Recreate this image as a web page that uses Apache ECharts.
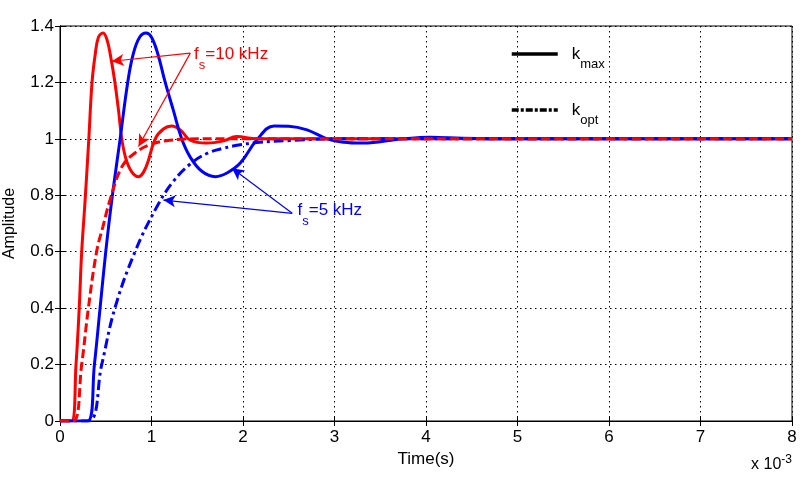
<!DOCTYPE html>
<html>
<head>
<meta charset="utf-8">
<script src="https://cdn.jsdelivr.net/npm/echarts@6/dist/echarts.min.js"></script>
<style>
  html, body { margin: 0; padding: 0; background: #fff; }
  #chart { width: 810px; height: 477px; }
</style>
</head>
<body>
<div id="chart"></div>
<script>
const redMaxT = [0, 0.125, 0.175, 0.21, 0.237, 0.274, 0.315, 0.35, 0.385, 0.42, 0.47, 0.515, 0.56, 0.6, 0.64, 0.675, 0.72, 0.78, 0.858, 0.94, 1.04, 1.13, 1.22, 1.32, 1.42, 1.6, 1.79, 1.93, 2.15, 2.5, 8]
const redMaxY = [0, 0, 0.2, 0.4, 0.6, 0.78, 1.0, 1.2, 1.3, 1.36, 1.375, 1.35, 1.28, 1.2, 1.1, 1.0, 0.93, 0.885, 0.866, 0.9, 1.0, 1.035, 1.046, 1.03, 0.996, 0.985, 0.993, 1.008, 1.0, 1.0, 1.0]

const redOptT = [0, 0.146, 0.237, 0.31, 0.4, 0.47, 0.548, 0.675, 0.82, 0.99, 1.2, 1.5, 8]
const redOptY = [0, 0, 0.2, 0.4, 0.6, 0.69, 0.785, 0.9, 0.95, 0.98, 0.995, 1.0, 1.0]

const blueMaxT = [0, 0.303, 0.376, 0.438, 0.5, 0.566, 0.657, 0.74, 0.8, 0.87, 0.94, 1.0, 1.07, 1.15, 1.24, 1.33, 1.42, 1.55, 1.7, 1.83, 1.97, 2.15, 2.34, 2.5, 2.7, 2.92, 3.1, 3.29, 3.5, 3.75, 4.05, 4.4, 5, 8]
const blueMaxY = [0, 0, 0.2, 0.4, 0.6, 0.783, 1.0, 1.2, 1.3, 1.36, 1.375, 1.36, 1.3, 1.2, 1.1, 1.0, 0.937, 0.885, 0.866, 0.88, 0.914, 0.996, 1.046, 1.045, 1.032, 1.0, 0.988, 0.985, 0.99, 1.0, 1.006, 1.002, 1.0, 1.0]

const blueOptT = [0, 0.31, 0.456, 0.6, 0.82, 1.06, 1.24, 1.42, 1.61, 1.79, 1.97, 2.15, 2.51, 3.0, 8]
const blueOptY = [0, 0, 0.2, 0.4, 0.6, 0.76, 0.85, 0.91, 0.949, 0.967, 0.979, 0.987, 0.994, 1.0, 1.0]

const legendNames = ['kmax', 'kopt']
const legendSub = {kmax: 'max', kopt: 'opt'}

const FONT = 'Liberation Sans, Arial, sans-serif'
const RED = '#ff0000'
const BLUE = '#0000ff'

const pairs = (t, y) => t.map((v, i) => [v, y[i]])

// subscript trick: sub token is padded down, main token sits in the middle
const subRich = (color) => ({
    m: {fontSize: 17, lineHeight: 18, verticalAlign: 'middle', color: color, fontFamily: FONT},
    s: {fontSize: 13, lineHeight: 13, padding: [21, 0, 0, 0], color: color, fontFamily: FONT}
})

function arrows(color, list) {
    return {
        silent: true,
        symbol: ['none', 'arrow'],
        symbolSize: [9, 12],
        label: {show: false},
        lineStyle: {color: color, width: 1.2, type: 'solid'},
        data: list.map(a => [{coord: [a[0], a[1]]}, {coord: [a[2], a[3]]}])
    }
}

function note(color, at, text) {
    return {
        silent: true,
        symbol: 'circle',
        symbolSize: 1,
        itemStyle: {color: 'transparent'},
        label: {
            show: true, position: 'right', distance: 0,
            formatter: text, rich: subRich(color)
        },
        data: [{coord: at}]
    }
}

const chart = echarts.init(document.getElementById('chart'))

const baseLine = (name, t, y, color, type) => ({
    name: name,
    type: 'line',
    data: pairs(t, y),
    showSymbol: false,
    symbol: 'none',
    smooth: 0.4,
    lineStyle: {color: color, width: 3, type: type},
    itemStyle: {color: color}
})

const axisCommon = {
    type: 'value',
    axisLine: {show: true, lineStyle: {color: '#000', width: 1}},
    axisTick: {show: true, inside: true, length: 5, lineStyle: {color: '#000'}}
}

chart.setOption({
    animation: false,
    grid: {left: 60, right: 18, top: 26, bottom: 56, show: true, borderColor: '#000', borderWidth: 1, containLabel: false, outerBoundsMode: 'none'},
    legend: {
        data: legendNames,
        orient: 'vertical',
        left: 505,
        top: 32,
        itemWidth: 46,
        itemHeight: 14,
        itemGap: 22,
        selectedMode: false,
        itemStyle: {opacity: 0},
        lineStyle: {width: 3.5},
        formatter: n => '{p|}{m|k}{s|' + legendSub[n] + '}',
        textStyle: {
            rich: Object.assign({p: {width: 9}}, subRich('#000'))
        }
    },
    xAxis: [
        Object.assign({}, axisCommon, {
            min: 0, max: 8, interval: 1,
            name: 'Time(s)', nameLocation: 'middle', nameGap: 27,
            nameTextStyle: {fontSize: 17, color: '#000', fontFamily: FONT},
            axisLabel: {fontSize: 17, color: '#000', fontFamily: FONT, margin: 8},
            splitLine: {show: true, lineStyle: {color: '#000', type: [1.5, 3.5], width: 1}}
        }),
        Object.assign({}, axisCommon, {
            position: 'top', min: 0, max: 8, interval: 1,
            axisLabel: {show: false}, splitLine: {show: false}
        })
    ],
    yAxis: [
        Object.assign({}, axisCommon, {
            min: 0, max: 1.4, interval: 0.2,
            name: 'Amplitude', nameLocation: 'middle', nameGap: 42,
            nameTextStyle: {fontSize: 16, color: '#000', fontFamily: FONT},
            axisLabel: {fontSize: 17, color: '#000', fontFamily: FONT, margin: 6},
            splitLine: {show: true, lineStyle: {color: '#000', type: [1.5, 3.5], width: 1}}
        }),
        Object.assign({}, axisCommon, {
            position: 'right', min: 0, max: 1.4, interval: 0.2,
            axisLabel: {show: false}, splitLine: {show: false}
        })
    ],
    graphic: [{
        type: 'text',
        right: 18,
        top: 452,
        style: {
            text: '{a|x 10}{b|-3}',
            rich: {
                a: {fontSize: 16, lineHeight: 17, padding: [5, 0, 0, 0], fill: '#000', fontFamily: FONT},
                b: {fontSize: 12, lineHeight: 12, verticalAlign: 'top', fill: '#000', fontFamily: FONT}
            }
        }
    }],
    series: [
        Object.assign(baseLine('fs10 kmax', redMaxT, redMaxY, RED, 'solid'), {
            markLine: arrows(RED, [[1.424, 1.304, 0.566, 1.275], [1.424, 1.304, 0.858, 0.973]]),
            markPoint: note(RED, [1.46, 1.298], '{m|f}{s|s}{m|=10 kHz}')
        }),
        Object.assign(baseLine('fs5 kmax', blueMaxT, blueMaxY, BLUE, 'solid'), {
            markLine: arrows(BLUE, [[2.538, 0.736, 1.88, 0.896], [2.538, 0.736, 1.13, 0.783]]),
            markPoint: note(BLUE, [2.59, 0.745], '{m|f}{s|s}{m|=5 kHz}')
        }),
        baseLine('fs5 kopt', blueOptT, blueOptY, BLUE, [10, 4, 3, 4]),
        baseLine('fs10 kopt', redOptT, redOptY, RED, [9, 4]),
        // legend-only entries
        {name: 'kmax', type: 'line', data: [], symbol: 'none', lineStyle: {color: '#000', width: 3, type: 'solid'}, itemStyle: {color: '#000'}},
        {name: 'kopt', type: 'line', data: [], symbol: 'none', lineStyle: {color: '#000', width: 3.5, type: [7, 2, 3, 2]}, itemStyle: {color: '#000'}}
    ]
})
</script>
</body>
</html>
